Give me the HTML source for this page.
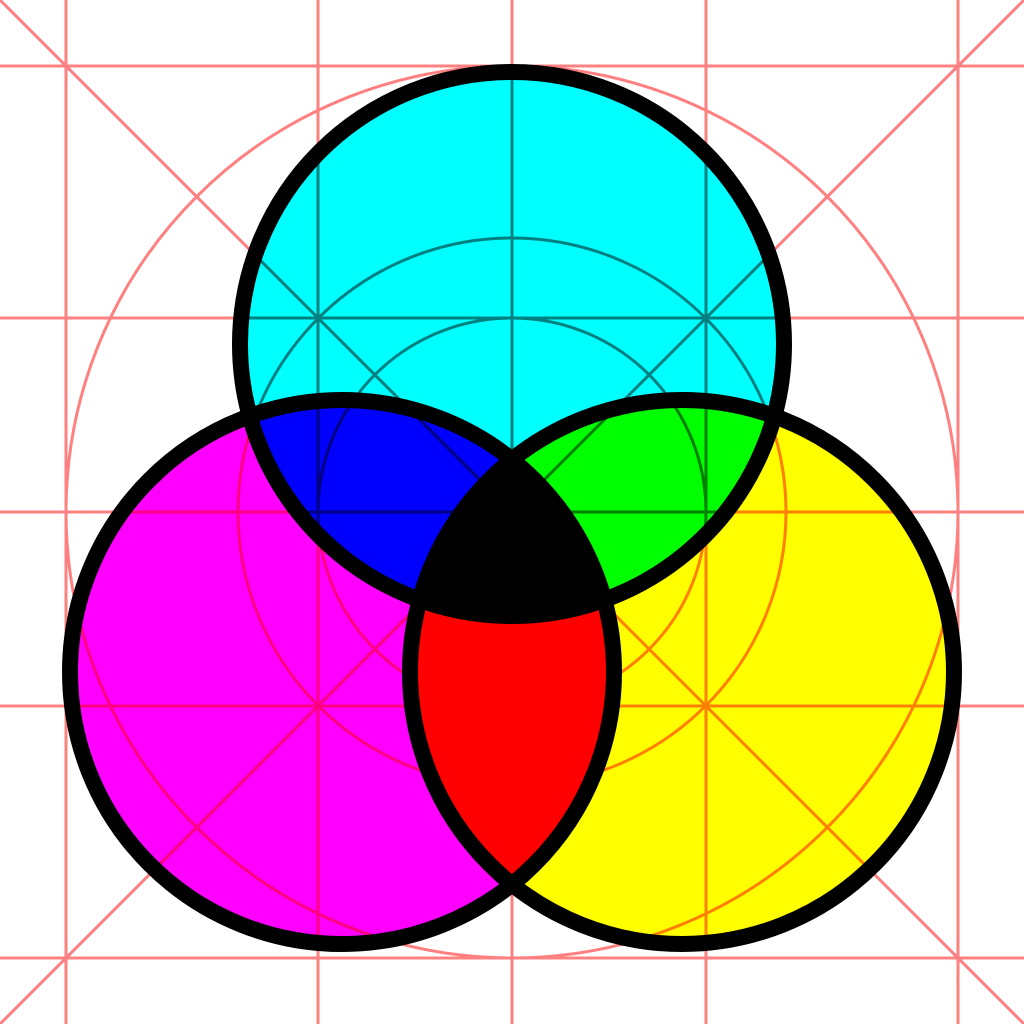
<!DOCTYPE html>
<html><head><meta charset="utf-8"><style>
html,body{margin:0;padding:0;background:#fff;}
svg{display:block;}
.m{mix-blend-mode:multiply;}
</style></head><body>
<svg width="1024" height="1024" viewBox="0 0 1024 1024">
<g style="isolation:isolate">
<circle class="m" cx="512" cy="344" r="272" fill="#00ffff"/>
<circle class="m" cx="342" cy="672" r="272" fill="#ff00ff"/>
<circle class="m" cx="682" cy="672" r="272" fill="#ffff00"/>
</g>
<g fill="none" stroke="#000" stroke-width="16">
<circle cx="512" cy="344" r="272"/>
<circle cx="342" cy="672" r="272"/>
<circle cx="682" cy="672" r="272"/>
</g>
<g class="m" stroke="#ff8080" stroke-width="3" fill="none">
<line x1="66" y1="0" x2="66" y2="1024"/>
<line x1="318" y1="0" x2="318" y2="1024"/>
<line x1="512" y1="0" x2="512" y2="1024"/>
<line x1="706" y1="0" x2="706" y2="1024"/>
<line x1="958" y1="0" x2="958" y2="1024"/>
<line x1="0" y1="66" x2="1024" y2="66"/>
<line x1="0" y1="318" x2="1024" y2="318"/>
<line x1="0" y1="512" x2="1024" y2="512"/>
<line x1="0" y1="706" x2="1024" y2="706"/>
<line x1="0" y1="958" x2="1024" y2="958"/>
<line x1="0" y1="0" x2="1024" y2="1024"/>
<line x1="1024" y1="0" x2="0" y2="1024"/>
<circle cx="512" cy="512" r="446"/>
<circle cx="512" cy="512" r="274"/>
<circle cx="512" cy="512" r="194"/>
</g>
</svg>
</body></html>
